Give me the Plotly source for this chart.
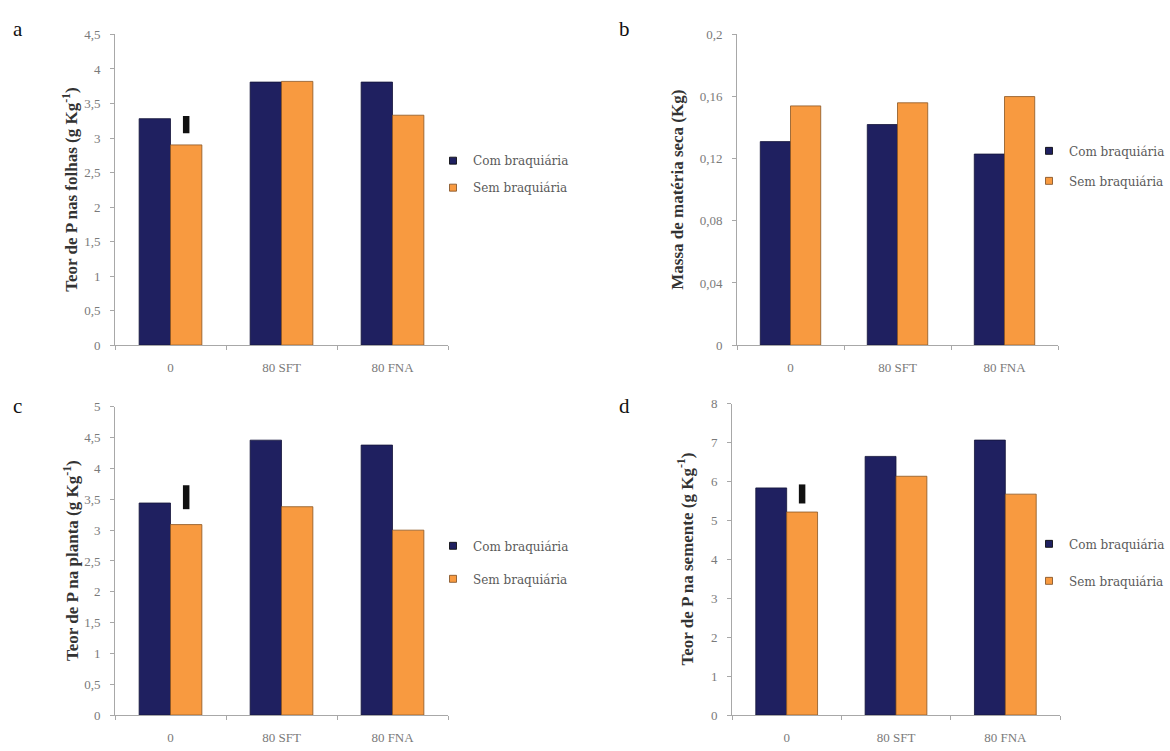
import plotly.graph_objects as go

# ---- data ---------------------------------------------------------------
CATEGORIES = ["0", "80 SFT", "80 FNA"]
SERIES = ["Com braquiária", "Sem braquiária"]

# a) Teor de P nas folhas (g Kg-1)
folhas_com = [3.28, 3.81, 3.81]
folhas_sem = [2.90, 3.82, 3.33]
folhas_lsd = [3.07, 3.32]          # DMS bar (bottom, top) at dose 0

# b) Massa de matéria seca (Kg)
massa_com = [0.131, 0.142, 0.123]
massa_sem = [0.154, 0.156, 0.160]

# c) Teor de P na planta (g Kg-1)
planta_com = [3.44, 4.46, 4.38]
planta_sem = [3.09, 3.38, 3.00]
planta_lsd = [3.34, 3.73]

# d) Teor de P na semente (g Kg-1)
semente_com = [5.84, 6.65, 7.07]
semente_sem = [5.22, 6.14, 5.68]
semente_lsd = [5.44, 5.93]

# tick labels (comma decimal separator)
ticks_a = [0, 0.5, 1, 1.5, 2, 2.5, 3, 3.5, 4, 4.5]
ticktext_a = ["0", "0,5", "1", "1,5", "2", "2,5", "3", "3,5", "4", "4,5"]
ticks_b = [0, 0.04, 0.08, 0.12, 0.16, 0.2]
ticktext_b = ["0", "0,04", "0,08", "0,12", "0,16", "0,2"]
ticks_c = [0, 0.5, 1, 1.5, 2, 2.5, 3, 3.5, 4, 4.5, 5]
ticktext_c = ["0", "0,5", "1", "1,5", "2", "2,5", "3", "3,5", "4", "4,5", "5"]
ticks_d = [0, 1, 2, 3, 4, 5, 6, 7, 8]
ticktext_d = ["0", "1", "2", "3", "4", "5", "6", "7", "8"]

# ---- style --------------------------------------------------------------
W, H = 1170, 751
NAVY = "#1f2060"
ORANGE = "#f89a40"
NAVY_EDGE = "#14143a"
ORANGE_EDGE = "#8a5522"
TICK_FONT = dict(family="Liberation Serif, Times New Roman, serif", size=13, color="#7a7a7a")
TITLE_FONT = dict(family="Liberation Serif, Times New Roman, serif", size=17, color="#333333")
LEGEND_FONT = dict(family="DejaVu Serif, serif", size=12, color="#5a5a5a")
LETTER_FONT = dict(family="Liberation Serif, Times New Roman, serif", size=21, color="#111111")
AXIS_COLOR = "#a8a8a8"
BARGAP = 0.435


def px_x(px):
    return px / W


def px_y(py):
    return 1 - py / H


panels = [
    dict(key="a", ax="", com=folhas_com, sem=folhas_sem, lsd=folhas_lsd,
         tv=ticks_a, tt=ticktext_a, rng=[0, 4.5], xd=(115, 448), yd=(345, 28),
         title="Teor de P nas folhas (g Kg<sup>-1</sup>)", title_x=70,
         legend="legend", leg=(473, 142), gap=8, letter=(18, 22)),
    dict(key="b", ax="2", com=massa_com, sem=massa_sem, lsd=None,
         tv=ticks_b, tt=ticktext_b, rng=[0, 0.2], xd=(737, 1058), yd=(345, 28),
         title="Massa de matéria seca (Kg)", title_x=678,
         legend="legend2", leg=(1069, 132), gap=11, letter=(624, 22)),
    dict(key="c", ax="3", com=planta_com, sem=planta_sem, lsd=planta_lsd,
         tv=ticks_c, tt=ticktext_c, rng=[0, 5], xd=(115, 448), yd=(722.5, 408),
         title="Teor de P na planta (g Kg<sup>-1</sup>)", title_x=71,
         legend="legend3", leg=(473, 535), gap=14, letter=(17, 407)),
    dict(key="d", ax="4", com=semente_com, sem=semente_sem, lsd=semente_lsd,
         tv=ticks_d, tt=ticktext_d, rng=[0, 8], xd=(732, 1060), yd=(722.5, 405),
         title="Teor de P na semente (g Kg<sup>-1</sup>)", title_x=686,
         legend="legend4", leg=(1069, 533), gap=18, letter=(624, 407)),
]

fig = go.Figure()
layout = dict(
    width=W, height=H, margin=dict(l=0, r=0, t=0, b=0),
    paper_bgcolor="white", plot_bgcolor="white",
    barmode="group", bargap=BARGAP, bargroupgap=0,
    showlegend=True, annotations=[],
)

for p in panels:
    xa = "x" + p["ax"]
    ya = "y" + p["ax"]
    cat_w = (p["xd"][1] - p["xd"][0]) / len(CATEGORIES)

    for name, vals, color, edge, grp in [
        (SERIES[0], p["com"], NAVY, NAVY_EDGE, "com"),
        (SERIES[1], p["sem"], ORANGE, ORANGE_EDGE, "sem"),
    ]:
        fig.add_trace(go.Bar(
            x=CATEGORIES, y=vals, name=name, offsetgroup=grp,
            marker=dict(color=color, line=dict(color=edge, width=0.8)),
            xaxis=xa, yaxis=ya, showlegend=False,
        ))

    # least significant difference bar drawn over the "Sem" bar at dose 0
    if p["lsd"] is not None:
        lo, hi = p["lsd"]
        fig.add_trace(go.Bar(
            x=[CATEGORIES[0]], y=[hi - lo], base=[lo], offsetgroup="sem",
            width=6.5 / cat_w,
            marker=dict(color="#111111", line=dict(width=0)),
            xaxis=xa, yaxis=ya, showlegend=False, hoverinfo="skip",
        ))

    # legend entries (small square swatches)
    for name, color, edge in [(SERIES[0], NAVY, "#000000"), (SERIES[1], ORANGE, "#7a4a20")]:
        fig.add_trace(go.Scatter(
            x=[None], y=[None], mode="markers", name=name,
            marker=dict(symbol="square", size=7, color=color, line=dict(color=edge, width=0.8)),
            legend=p["legend"], legendgroup=p["key"] + name,
            xaxis=xa, yaxis=ya, showlegend=True,
        ))

    xkey = "xaxis" + p["ax"]
    ykey = "yaxis" + p["ax"]
    layout[xkey] = dict(
        domain=[px_x(p["xd"][0]), px_x(p["xd"][1])], anchor=ya,
        type="category", categoryorder="array", categoryarray=CATEGORIES,
        showline=True, linecolor=AXIS_COLOR, linewidth=1,
        ticks="outside", tickson="boundaries", ticklen=4, tickcolor=AXIS_COLOR,
        tickfont=TICK_FONT, ticklabelstandoff=10,
        showgrid=False, zeroline=False, fixedrange=True,
    )
    layout[ykey] = dict(
        domain=[px_y(p["yd"][0]), px_y(p["yd"][1])], anchor=xa,
        range=p["rng"], tickmode="array", tickvals=p["tv"], ticktext=p["tt"],
        showline=True, linecolor=AXIS_COLOR, linewidth=1,
        ticks="outside", ticklen=4, tickcolor=AXIS_COLOR,
        tickfont=TICK_FONT, ticklabelstandoff=7,
        showgrid=False, zeroline=False, fixedrange=True,
    )
    layout[p["legend"]] = dict(
        x=px_x(p["leg"][0] - 40), y=px_y(p["leg"][1]),
        xanchor="left", yanchor="top", font=LEGEND_FONT,
        bgcolor="rgba(0,0,0,0)", borderwidth=0,
        tracegroupgap=p["gap"], itemclick=False, itemdoubleclick=False,
    )
    mid_y = (p["yd"][0] + p["yd"][1]) / 2
    layout["annotations"].append(dict(
        text="<b>" + p["title"] + "</b>", textangle=-90,
        x=px_x(p["title_x"]), y=px_y(mid_y), xref="paper", yref="paper",
        xanchor="center", yanchor="middle", showarrow=False, font=TITLE_FONT,
    ))
    layout["annotations"].append(dict(
        text=p["key"], x=px_x(p["letter"][0]), y=px_y(p["letter"][1]),
        xref="paper", yref="paper", xanchor="center", yanchor="middle",
        showarrow=False, font=LETTER_FONT,
    ))

fig.update_layout(**layout)
fig.write_html("out.html")
